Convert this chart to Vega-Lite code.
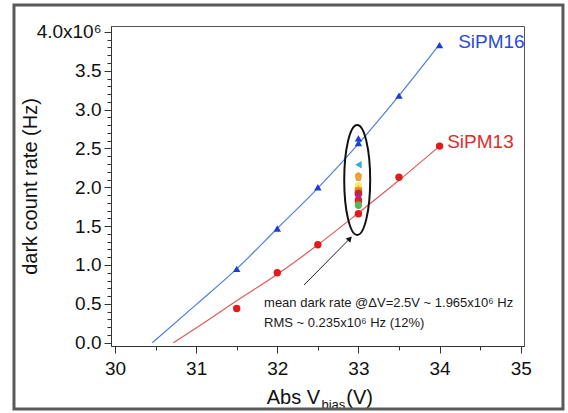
{
  "$schema": "https://vega.github.io/schema/vega-lite/v6.json",
  "width": 413,
  "height": 320,
  "autosize": "none",
  "padding": {"left": 111, "top": 26, "right": 44, "bottom": 67},
  "background": "white",
  "config": {
    "font": "Liberation Sans",
    "view": {"stroke": "#555555", "strokeWidth": 1},
    "axis": {"grid": false, "domainColor": "#333333", "tickColor": "#333333", "labelColor": "#111111", "labelFont": "Liberation Sans", "titleFont": "Liberation Sans", "titleFontWeight": "normal", "titleColor": "#111111", "labelOverlap": false}
  },
  "datasets": {
    "one": [{"n": 1}],
    "fit": [
      {"v": 30.46, "rate": 0.0, "s": "SiPM16"},
      {"v": 31.0, "rate": 0.49, "s": "SiPM16"},
      {"v": 31.5, "rate": 0.95, "s": "SiPM16"},
      {"v": 32.0, "rate": 1.47, "s": "SiPM16"},
      {"v": 32.5, "rate": 1.99, "s": "SiPM16"},
      {"v": 33.0, "rate": 2.56, "s": "SiPM16"},
      {"v": 33.5, "rate": 3.18, "s": "SiPM16"},
      {"v": 34.0, "rate": 3.84, "s": "SiPM16"},
      {"v": 30.72, "rate": 0.0, "s": "SiPM13"},
      {"v": 31.0, "rate": 0.19, "s": "SiPM13"},
      {"v": 31.5, "rate": 0.54, "s": "SiPM13"},
      {"v": 32.0, "rate": 0.88, "s": "SiPM13"},
      {"v": 32.5, "rate": 1.26, "s": "SiPM13"},
      {"v": 33.0, "rate": 1.67, "s": "SiPM13"},
      {"v": 33.5, "rate": 2.09, "s": "SiPM13"},
      {"v": 34.0, "rate": 2.53, "s": "SiPM13"}
    ],
    "pts": [
      {"v": 33.0, "rate": 2.15, "k": "o"},
      {"v": 33.0, "rate": 2.12, "k": "o2"},
      {"v": 33.0, "rate": 2.02, "k": "y"},
      {"v": 33.0, "rate": 1.98, "k": "yo"},
      {"v": 33.0, "rate": 1.95, "k": "or"},
      {"v": 33.0, "rate": 1.92, "k": "dr"},
      {"v": 33.0, "rate": 1.89, "k": "pu"},
      {"v": 33.0, "rate": 1.86, "k": "mg"},
      {"v": 33.0, "rate": 1.83, "k": "rd"},
      {"v": 33.0, "rate": 1.80, "k": "rd2"},
      {"v": 33.0, "rate": 1.77, "k": "gr"},
      {"v": 33.0, "rate": 2.29, "k": "c"},
      {"v": 31.5, "rate": 0.44, "k": "r"},
      {"v": 32.0, "rate": 0.9, "k": "r"},
      {"v": 32.5, "rate": 1.26, "k": "r"},
      {"v": 33.0, "rate": 1.66, "k": "r"},
      {"v": 33.5, "rate": 2.13, "k": "r"},
      {"v": 34.0, "rate": 2.53, "k": "r"},
      {"v": 31.5, "rate": 0.95, "k": "b"},
      {"v": 32.0, "rate": 1.47, "k": "b"},
      {"v": 32.5, "rate": 2.0, "k": "b"},
      {"v": 33.0, "rate": 2.57, "k": "b"},
      {"v": 33.0, "rate": 2.63, "k": "b"},
      {"v": 33.5, "rate": 3.18, "k": "b"},
      {"v": 34.0, "rate": 3.83, "k": "b"}
    ]
  },
  "layer": [
    {
      "encoding": {
        "x": {"field": "v", "type": "quantitative",
          "scale": {"domain": [29.9507, 35.0407], "nice": false, "zero": false},
          "axis": {"title": null, "values": [30, 30.5, 31, 31.5, 32, 32.5, 33, 33.5, 34, 34.5, 35],
            "labelExpr": "datum.value % 1 == 0 ? format(datum.value, 'd') : ''",
            "tickSize": {"condition": {"test": "datum.value % 1 == 0", "value": 7}, "value": 4},
            "labelFontSize": 19, "labelPadding": 6}},
        "y": {"field": "rate", "type": "quantitative",
          "scale": {"domain": [-0.0425, 4.076], "nice": false, "zero": false},
          "axis": {"title": "dark count rate (Hz)",
            "values": [0, 0.1, 0.2, 0.3, 0.4, 0.5, 0.6, 0.7, 0.8, 0.9, 1.0, 1.1, 1.2, 1.3, 1.4, 1.5, 1.6, 1.7, 1.8, 1.9, 2.0, 2.1, 2.2, 2.3, 2.4, 2.5, 2.6, 2.7, 2.8, 2.9, 3.0, 3.1, 3.2, 3.3, 3.4, 3.5, 3.6, 3.7, 3.8, 3.9, 4.0],
            "labelExpr": "abs(datum.value * 2 - round(datum.value * 2)) < 0.001 ? (datum.value > 3.99 ? '4.0x10⁶' : format(datum.value, '.1f')) : ''",
            "tickSize": {"condition": {"test": "abs(datum.value * 2 - round(datum.value * 2)) < 0.001", "value": 7}, "value": 4},
            "labelFontSize": 19, "labelPadding": 3,
            "titleFontSize": 20, "titleX": -81, "titleY": 160, "titleAngle": 270, "titleAlign": "center", "titleBaseline": "middle"}}
      },
      "layer": [
        {
          "data": {"name": "fit"},
          "transform": [{"filter": "datum.s == 'SiPM16'"}],
          "mark": {"type": "line", "color": "#4f7fd9", "strokeWidth": 1.2, "interpolate": "monotone", "clip": true}
        },
        {
          "data": {"name": "fit"},
          "transform": [{"filter": "datum.s == 'SiPM13'"}],
          "mark": {"type": "line", "color": "#e05a5a", "strokeWidth": 1.2, "interpolate": "monotone", "clip": true}
        },
        {
          "data": {"name": "pts"},
          "mark": {"type": "point", "filled": true, "opacity": 1, "size": 55},
          "encoding": {
            "color": {"field": "k", "type": "nominal", "legend": null,
              "scale": {"domain": ["b", "r", "c", "o", "o2", "y", "yo", "or", "dr", "pu", "mg", "rd", "rd2", "gr"],
                "range": ["#1c3fd1", "#e31a1c", "#35a8e0", "#f2962a", "#f0a040", "#f2ec70", "#f0c020", "#f08020", "#c0282a", "#7a2bd0", "#c02090", "#e02020", "#d0303a", "#58b858"]}},
            "shape": {"field": "k", "type": "nominal", "legend": null,
              "scale": {"domain": ["b", "r", "c", "o", "o2", "y", "yo", "or", "dr", "pu", "mg", "rd", "rd2", "gr"],
                "range": ["triangle-up", "circle", "triangle-left", "M0,-1L0.951,-0.309L0.588,0.809L-0.588,0.809L-0.951,-0.309Z", "M0,-1L0.951,-0.309L0.588,0.809L-0.588,0.809L-0.951,-0.309Z", "circle", "diamond", "square", "circle", "triangle-up", "triangle-down", "circle", "diamond", "circle"]}}
          }
        }
      ]
    },
    {
      "data": {"name": "one"},
      "encoding": {
        "x": {"type": "quantitative",
          "axis": {"title": null, "values": [30, 30.5, 31, 31.5, 32, 32.5, 33, 33.5, 34, 34.5, 35],
            "labelExpr": "datum.value % 1 == 0 ? format(datum.value, 'd') : ''",
            "tickSize": {"condition": {"test": "datum.value % 1 == 0", "value": 7}, "value": 4},
            "labelFontSize": 19, "labelPadding": 6}},
        "y": {"type": "quantitative",
          "axis": {"title": "dark count rate (Hz)",
            "values": [0, 0.1, 0.2, 0.3, 0.4, 0.5, 0.6, 0.7, 0.8, 0.9, 1.0, 1.1, 1.2, 1.3, 1.4, 1.5, 1.6, 1.7, 1.8, 1.9, 2.0, 2.1, 2.2, 2.3, 2.4, 2.5, 2.6, 2.7, 2.8, 2.9, 3.0, 3.1, 3.2, 3.3, 3.4, 3.5, 3.6, 3.7, 3.8, 3.9, 4.0],
            "labelExpr": "abs(datum.value * 2 - round(datum.value * 2)) < 0.001 ? (datum.value > 3.99 ? '4.0x10⁶' : format(datum.value, '.1f')) : ''",
            "tickSize": {"condition": {"test": "abs(datum.value * 2 - round(datum.value * 2)) < 0.001", "value": 7}, "value": 4},
            "labelFontSize": 19, "labelPadding": 3,
            "titleFontSize": 20, "titleX": -81, "titleY": 160, "titleAngle": 270, "titleAlign": "center", "titleBaseline": "middle"}}
      },
      "layer": [
        {
          "mark": {"type": "text", "text": "mean dark rate @ΔV=2.5V ~ 1.965x10⁶ Hz", "align": "left", "baseline": "alphabetic", "fontSize": 13, "color": "#1a1a1a"},
          "encoding": {"x": {"datum": 31.837}, "y": {"datum": 0.459}}
        },
        {
          "mark": {"type": "text", "text": "RMS ~ 0.235x10⁶ Hz (12%)", "align": "left", "baseline": "alphabetic", "fontSize": 13, "color": "#1a1a1a"},
          "encoding": {"x": {"datum": 31.837}, "y": {"datum": 0.202}}
        },
        {
          "mark": {"type": "text", "text": "SiPM16", "align": "left", "baseline": "middle", "fontSize": 19, "color": "#2a4bd7"},
          "encoding": {"x": {"datum": 34.229}, "y": {"datum": 3.87}}
        },
        {
          "mark": {"type": "text", "text": "SiPM13", "align": "left", "baseline": "middle", "fontSize": 19, "color": "#e02b2b"},
          "encoding": {"x": {"datum": 34.094}, "y": {"datum": 2.583}}
        },
        {
          "mark": {"type": "text", "text": "Abs V", "align": "right", "baseline": "alphabetic", "fontSize": 20, "color": "#111111"},
          "encoding": {"x": {"datum": 32.527}, "y": {"datum": -0.789}}
        },
        {
          "mark": {"type": "text", "text": "bias", "align": "left", "baseline": "alphabetic", "fontSize": 13, "color": "#111111"},
          "encoding": {"x": {"datum": 32.545}, "y": {"datum": -0.853}}
        },
        {
          "mark": {"type": "text", "text": "(V)", "align": "left", "baseline": "alphabetic", "fontSize": 20, "color": "#111111"},
          "encoding": {"x": {"datum": 32.85}, "y": {"datum": -0.789}}
        },
        {
          "mark": {"type": "rule", "color": "#222222", "strokeWidth": 1},
          "encoding": {"x": {"datum": 32.33}, "y": {"datum": 0.743}, "x2": {"datum": 32.89}, "y2": {"datum": 1.335}}
        },
        {
          "mark": {"type": "point", "shape": "triangle-up", "angle": 43, "size": 40, "filled": true, "color": "#111111", "opacity": 1},
          "encoding": {"x": {"datum": 32.895}, "y": {"datum": 1.34}}
        },
        {
          "mark": {"type": "rect", "fillOpacity": 0, "stroke": "#5a5a5a", "strokeWidth": 3},
          "encoding": {"x": {"datum": 28.755}, "x2": {"datum": 35.521}, "y": {"datum": 4.346}, "y2": {"datum": -0.853}}
        },
        {
          "mark": {"type": "point", "shape": "M0,-1A0.236,1 0 1,1 0,1A0.236,1 0 1,1 0,-1Z", "size": 12100, "filled": false, "stroke": "#111111", "strokeWidth": 2, "opacity": 1},
          "encoding": {"x": {"datum": 32.985}, "y": {"datum": 2.094}}
        }
      ]
    }
  ]
}
